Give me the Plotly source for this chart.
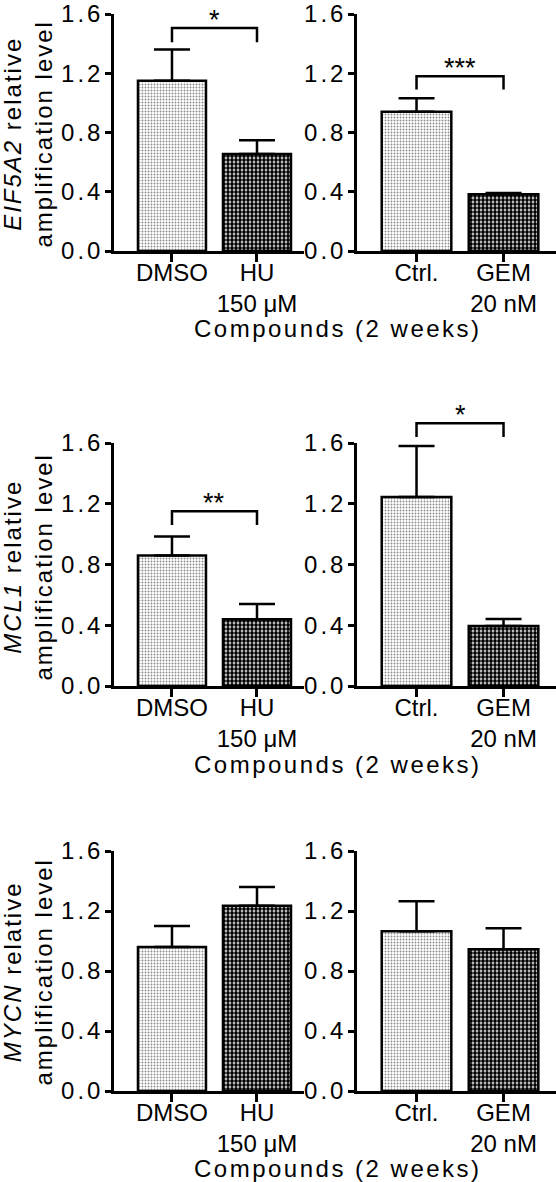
import plotly.graph_objects as go

# ---------------- data ----------------
genes = ["EIF5A2", "MCL1", "MYCN"]
categories_left = ["DMSO", "HU<br>150 μM"]
categories_right = ["Ctrl.", "GEM<br>20 nM"]

hu_means_eif5a2 = [1.15, 0.655]
hu_sem_eif5a2 = [0.21, 0.092]
gem_means_eif5a2 = [0.94, 0.383]
gem_sem_eif5a2 = [0.092, 0.008]

hu_means_mcl1 = [0.86, 0.44]
hu_sem_mcl1 = [0.125, 0.10]
gem_means_mcl1 = [1.245, 0.395]
gem_sem_mcl1 = [0.335, 0.046]

hu_means_mycn = [0.96, 1.235]
hu_sem_mycn = [0.14, 0.125]
gem_means_mycn = [1.065, 0.945]
gem_sem_mycn = [0.20, 0.14]

# significance: (label, bracket level, bracket leg end) or None
sig_hu = [("*", 1.505, 1.41), ("**", 1.15, 1.06), None]
sig_gem = [("***", 1.18, 1.09), ("*", 1.73, 1.64), None]

y_ticks = [0.0, 0.4, 0.8, 1.2, 1.6]
y_ticktext = ["0.0", "0.4", "0.8", "1.2", "1.6"]
x_title = "Compounds (2 weeks)"

# ---------------- layout constants ----------------
W, H = 556, 1182
FONT = "Liberation Sans, Arial, sans-serif"
LW = 2.5

def py(px):
    return 1 - px / H

def pxx(px):
    return px / W

row_px = [(14, 251), (443, 686), (851, 1091)]       # (top, bottom) of y domain
xtitle_px = [328, 764, 1168]
ytitle_px = [134, 567, 972]
left_dom = [pxx(114), pxx(304)]
right_dom = [pxx(357), 1.0]
left_range = [-0.682, 1.553]
right_range = [-0.684, 1.603]

hu_means = [hu_means_eif5a2, hu_means_mcl1, hu_means_mycn]
hu_sems = [hu_sem_eif5a2, hu_sem_mcl1, hu_sem_mycn]
gem_means = [gem_means_eif5a2, gem_means_mcl1, gem_means_mycn]
gem_sems = [gem_sem_eif5a2, gem_sem_mcl1, gem_sem_mycn]

fig = go.Figure()
layout = dict(
    width=W, height=H, margin=dict(l=0, r=0, t=0, b=0, autoexpand=False),
    paper_bgcolor="white", plot_bgcolor="white", showlegend=False,
    font=dict(family=FONT, size=24, color="black"),
)
shapes = []
annotations = []

pattern = dict(
    shape=[".", "."],
    fgcolor=["#8a8a8a", "black"],
    bgcolor=["white", "white"],
    size=[3, 4],
    solidity=[0.3, 0.7],
    fillmode="replace",
)

ytext = [f"<span style='letter-spacing:3px'>{t}</span>" for t in y_ticktext]

for r in range(3):
    top, bot = row_px[r]
    ydom = [py(bot), py(top)]
    for c in range(2):
        idx = r * 2 + c + 1
        sfx = "" if idx == 1 else str(idx)
        xa, ya = "x" + sfx, "y" + sfx
        cats = categories_left if c == 0 else categories_right
        means = hu_means[r] if c == 0 else gem_means[r]
        sems = hu_sems[r] if c == 0 else gem_sems[r]
        fig.add_trace(go.Bar(
            x=[0, 1], y=means, width=0.8,
            xaxis=xa, yaxis=ya,
            marker=dict(color="white", line=dict(color="black", width=LW),
                        pattern=pattern),
            error_y=dict(type="data", symmetric=False, array=sems,
                         arrayminus=[0, 0], color="black",
                         thickness=LW, width=18),
        ))
        layout["xaxis" + sfx] = dict(
            domain=left_dom if c == 0 else right_dom,
            range=left_range if c == 0 else right_range,
            anchor=ya, showline=True, linecolor="black", linewidth=LW,
            ticks="outside", ticklen=8, tickwidth=LW, tickcolor="black",
            tickvals=[0, 1], ticktext=cats, showgrid=False, zeroline=False,
            tickfont=dict(family=FONT, size=24, color="black"),
            ticklabelstandoff=-10, ticklabeloverflow="allow",
            automargin=False, fixedrange=True,
        )
        layout["yaxis" + sfx] = dict(
            domain=ydom, range=[0, 1.6], anchor=xa,
            showline=True, linecolor="black", linewidth=LW,
            ticks="outside", ticklen=6, tickwidth=LW, tickcolor="black",
            tickvals=y_ticks, ticktext=ytext,
            showgrid=False, zeroline=False,
            tickfont=dict(family=FONT, size=24, color="black"),
            ticklabelstandoff=-3, ticklabeloverflow="allow",
            automargin=False, fixedrange=True,
        )
        sig = sig_hu[r] if c == 0 else sig_gem[r]
        if sig is not None:
            label, lvl, leg = sig
            shapes.append(dict(
                type="path", xref=xa, yref=ya + " domain",
                path=f"M 0,{leg/1.6} L 0,{lvl/1.6} L 1,{lvl/1.6} L 1,{leg/1.6}",
                line=dict(color="black", width=LW),
            ))
            annotations.append(dict(
                x=0.5, y=lvl / 1.6, xref=xa, yref=ya + " domain", text=label,
                showarrow=False, yanchor="bottom", yshift=-9,
                font=dict(family=FONT, size=27, color="black"),
            ))
    # y title
    annotations.append(dict(
        x=pxx(27.5), y=py(ytitle_px[r]), xref="paper", yref="paper",
        text=f"<span style='letter-spacing:2px'><i>{genes[r]}</i> relative<br>amplification level</span>",
        textangle=-90, showarrow=False, xanchor="center", yanchor="middle",
        font=dict(family=FONT, size=24, color="black"),
    ))
    # x title
    annotations.append(dict(
        x=pxx(338), y=py(xtitle_px[r]), xref="paper", yref="paper",
        text=f"<span style='letter-spacing:2.5px'>{x_title}</span>",
        showarrow=False, xanchor="center", yanchor="middle",
        font=dict(family=FONT, size=24, color="black"),
    ))

layout["shapes"] = shapes
layout["annotations"] = annotations
fig.update_layout(**layout)
fig.write_html("out.html", config={"displayModeBar": False},
               post_script="document.body.style.margin='0';")
